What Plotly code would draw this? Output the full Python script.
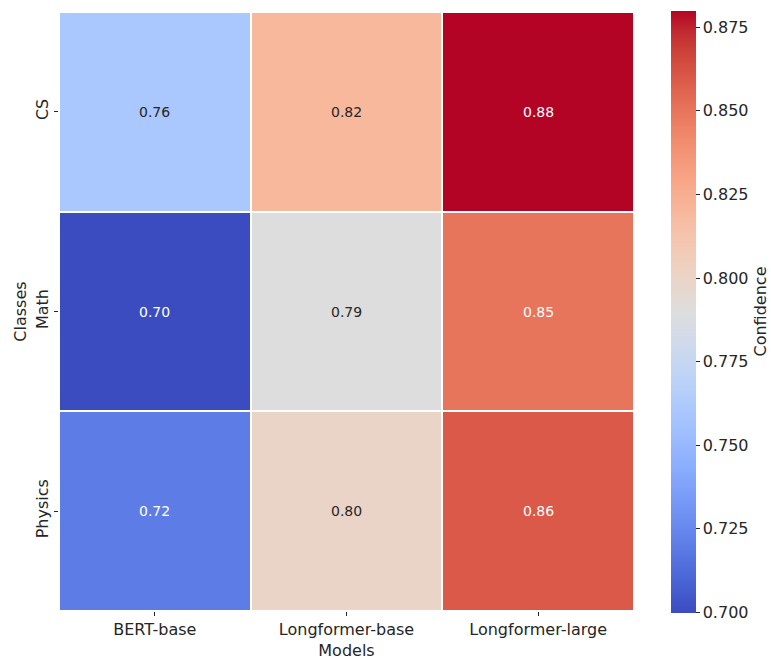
import plotly.graph_objects as go

# Confidence scores per class (rows) and model (columns)
models = ["BERT-base", "Longformer-base", "Longformer-large"]
classes = ["CS", "Math", "Physics"]
cs_scores = [0.76, 0.82, 0.88]
math_scores = [0.70, 0.79, 0.85]
physics_scores = [0.72, 0.80, 0.86]
cbar_ticks = [0.700, 0.725, 0.750, 0.775, 0.800, 0.825, 0.850, 0.875]

z = [cs_scores, math_scores, physics_scores]
zmin = min(min(r) for r in z)
zmax = max(max(r) for r in z)

# matplotlib-style "coolwarm" diverging map (Moreland table)
coolwarm_rgb = [
    (59, 76, 192), (68, 90, 204), (77, 104, 215), (87, 117, 225),
    (98, 130, 234), (108, 142, 241), (119, 154, 247), (130, 165, 251),
    (141, 176, 254), (152, 185, 255), (163, 194, 255), (174, 201, 253),
    (184, 208, 249), (194, 213, 244), (204, 217, 238), (213, 219, 230),
    (221, 221, 221), (229, 216, 209), (236, 211, 197), (241, 204, 185),
    (245, 196, 173), (247, 187, 160), (247, 177, 148), (247, 166, 135),
    (244, 154, 123), (241, 141, 111), (236, 127, 99), (229, 112, 88),
    (222, 96, 77), (213, 80, 66), (203, 62, 56), (192, 40, 47),
    (180, 4, 38),
]
n = len(coolwarm_rgb) - 1
colorscale = [[i / n, "rgb(%d,%d,%d)" % c] for i, c in enumerate(coolwarm_rgb)]


def sample(t):
    t = max(0.0, min(1.0, t))
    pos = t * n
    i = min(int(pos), n - 1)
    f = pos - i
    a, b = coolwarm_rgb[i], coolwarm_rgb[i + 1]
    return tuple(a[k] + (b[k] - a[k]) * f for k in range(3))


def luminance(rgb):
    def lin(c):
        c = c / 255.0
        return c / 12.92 if c <= 0.03928 else ((c + 0.055) / 1.055) ** 2.4
    r, g, b = (lin(c) for c in rgb)
    return 0.2126 * r + 0.7152 * g + 0.0722 * b


text_dark = "#262626"
font_family = "DejaVu Sans, Verdana, sans-serif"

fig = go.Figure(
    go.Heatmap(
        z=z,
        x=models,
        y=classes,
        zmin=zmin,
        zmax=zmax,
        colorscale=colorscale,
        xgap=2,
        ygap=2,
        hoverinfo="skip",
        colorbar=dict(
            thickness=25,
            len=602,
            lenmode="pixels",
            x=1.0643,
            xanchor="left",
            xpad=0,
            y=0.5,
            yanchor="middle",
            ypad=0,
            outlinewidth=0,
            ticks="outside",
            ticklen=4,
            tickwidth=1,
            tickcolor=text_dark,
            tickvals=cbar_ticks,
            ticktext=["%.3f" % v for v in cbar_ticks],
            tickfont=dict(size=16, color=text_dark, family=font_family),
            title=dict(
                text="Confidence",
                side="right",
                font=dict(size=16, color=text_dark, family=font_family),
            ),
        ),
    )
)

# Value labels, light or dark depending on the cell colour
annotations = []
for row_name, row in zip(classes, z):
    for col_name, v in zip(models, row):
        rgb = sample((v - zmin) / (zmax - zmin))
        color = text_dark if luminance(rgb) > 0.408 else "white"
        annotations.append(
            dict(
                x=col_name,
                y=row_name,
                text="%.2f" % v,
                showarrow=False,
                font=dict(size=14, color=color, family=font_family),
            )
        )

fig.update_layout(
    width=771,
    height=662,
    margin=dict(l=59, r=137, t=12, b=51, autoexpand=False),
    paper_bgcolor="white",
    plot_bgcolor="white",
    font=dict(family=font_family, color=text_dark),
    annotations=annotations,
)

fig.update_xaxes(
    showgrid=False,
    zeroline=False,
    showline=False,
    ticks="outside",
    ticklen=4,
    tickwidth=1,
    tickcolor=text_dark,
    tickfont=dict(size=16, color=text_dark),
    title=dict(text="Models", font=dict(size=16, color=text_dark), standoff=6),
)
fig.update_yaxes(
    autorange="reversed",
    showgrid=False,
    zeroline=False,
    showline=False,
    ticks="outside",
    ticklen=4,
    tickwidth=1,
    tickcolor=text_dark,
    tickangle=-90,
    tickfont=dict(size=16, color=text_dark),
    title=dict(text="Classes", font=dict(size=16, color=text_dark), standoff=1),
)

fig.write_html("out.html")
